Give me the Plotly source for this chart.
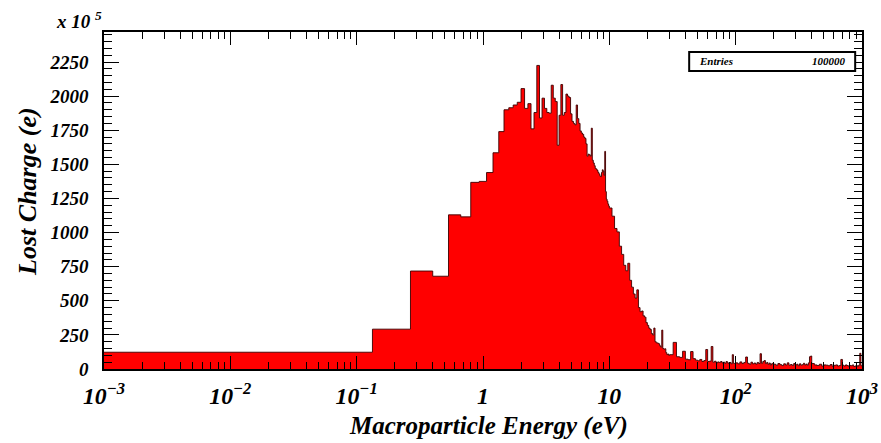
import numpy as np
import plotly.graph_objects as go

# ---------------- data (energy in eV, lost charge in units of 1e5 e) ----------------
# Histogram stored as segments: (low edge of first bin, bin width, bin contents)
seg_a_start, seg_a_width = 0.0, 10.0 / 75
seg_a_counts = [123, 292, 718, 680, 1130, 1115, 1368, 1375, 1440, 1585,
                1740, 1900, 1915, 1935, 1955, 2055, 1910, 1945, 1760, 1880,
                2225, 1840, 1985, 1910, 1880, 1875, 2080, 1985, 1960, 1640,
                1860, 2085, 1860, 1880, 2015, 2000, 1990, 1870, 1815, 1800,
                1790, 1935, 1835, 1800, 1745,
                1730, 1720, 1700, 1690, 1650, 1560, 1575, 1570, 1560, 1765,
                1530, 1510, 1490, 1470, 1465, 1455, 1440, 1430, 1415, 1410,
                1440, 1460, 1450, 1420, 1595, 1300, 1245, 1230, 1210, 1195]

seg_b_start, seg_b_width = 10.0, 0.5
seg_b_counts = [1180, 1120, 1030, 1005, 900, 840, 760, 720, 775, 650,
                600, 550, 520, 580, 450, 420, 425, 390, 380, 340,
                320, 300, 290, 260, 250, 300, 200, 192, 190, 185,
                170, 160, 285, 150, 145, 148, 120, 106, 110, 100]

seg_c_start, seg_c_width = 30.0, 2.0
seg_c_counts = [105, 195, 90, 85, 130, 72, 68, 128, 76, 65,
                60, 70, 55, 62, 143, 55, 58, 165, 50, 57,
                45, 52, 48, 55, 45, 50, 42, 55, 45, 40,
                48, 38, 105, 42, 40]

seg_d_start, seg_d_width = 100.0, 4.0
seg_d_counts = [45, 38, 52, 40, 48, 88, 42, 35, 50, 38,
                44, 36, 48, 40, 112, 42, 55, 62, 40, 48,
                35, 44, 30, 38, 42]

seg_e_start, seg_e_width = 200.0, 8.0
seg_e_counts = [35, 28, 40, 32, 25, 38, 30, 45, 28, 33,
                26, 40, 30, 35, 24, 38, 28, 32, 42, 30,
                36, 28, 45, 90, 95]

seg_f_start, seg_f_width = 400.0, 20.0
seg_f_counts = [40, 30, 26, 35, 22, 30, 28, 24, 33, 20,
                27, 30, 22, 25, 70, 28, 22, 30, 25, 20,
                26, 24, 30, 18, 22, 25, 20, 28, 115, 24]

entries_label = "Entries"
entries_value = "100000"
x_min, x_max = 1e-3, 1e3
y_max = 2470
y_major, y_minor = 250, 50

# ---------------- build step outline ----------------
segments = [(seg_a_start, seg_a_width, seg_a_counts),
            (seg_b_start, seg_b_width, seg_b_counts),
            (seg_c_start, seg_c_width, seg_c_counts),
            (seg_d_start, seg_d_width, seg_d_counts),
            (seg_e_start, seg_e_width, seg_e_counts),
            (seg_f_start, seg_f_width, seg_f_counts)]
edges, vals = [], []
for s, w, c in segments:
    for i, v in enumerate(c):
        edges.append(s + i * w)
        vals.append(v)
last = segments[-1]
edges.append(last[0] + len(last[2]) * last[1])
vals.append(vals[-1])
xs = np.maximum(np.array(edges), x_min)
ys = np.array(vals, dtype=float)

FONT = "Liberation Serif"

fig = go.Figure()
fig.add_trace(go.Scatter(
    x=xs, y=ys, mode="lines", line_shape="hv",
    fill="tozeroy", fillcolor="#ff0000",
    line=dict(color="rgba(60,0,0,0.9)", width=1),
    hoverinfo="skip", showlegend=False))

tickfont = dict(family=FONT, size=19, color="black", weight="bold", style="italic")

fig.update_layout(
    width=881, height=443,
    margin=dict(l=104, r=19, t=32, b=74, autoexpand=False),
    paper_bgcolor="white", plot_bgcolor="white",
    xaxis=dict(type="log", range=[np.log10(x_min), np.log10(x_max)],
               tickmode="linear", tick0=0, dtick=1, exponentformat="power",
               ticks="inside", ticklen=13, tickwidth=1, tickcolor="black",
               minor=dict(ticks="inside", ticklen=7, dtick="D1", tickcolor="black", showgrid=False),
               showline=True, linecolor="black", linewidth=1.5, mirror="ticks",
               showgrid=False, zeroline=False, tickfont=tickfont, ticklabelstandoff=6,
               automargin=False),
    yaxis=dict(range=[0, y_max], tickmode="linear", tick0=0, dtick=y_major,
               ticks="inside", ticklen=15, tickwidth=1, tickcolor="black",
               minor=dict(ticks="inside", ticklen=8, dtick=y_minor, tickcolor="black", showgrid=False),
               showline=True, linecolor="black", linewidth=1.5, mirror="ticks",
               showgrid=False, zeroline=False, tickfont=tickfont, ticklabelstandoff=10,
               automargin=False),
)

ann_font = dict(family=FONT, color="black", weight="bold", style="italic")
fig.add_annotation(text="x 10 <sup>5</sup>", xref="paper", yref="paper", x=0, y=1,
                   xanchor="right", yanchor="bottom", showarrow=False,
                   font=dict(ann_font, size=19), yshift=-2)
fig.add_annotation(text="Lost Charge (e)", xref="paper", yref="paper", x=-0.100, y=0.526,
                   xanchor="center", yanchor="middle", textangle=-90, showarrow=False,
                   font=dict(ann_font, size=26))
fig.add_annotation(text="Macroparticle Energy (eV)", xref="paper", yref="paper", x=0.507, y=-0.170,
                   xanchor="center", yanchor="middle", showarrow=False,
                   font=dict(ann_font, size=25))

# stats box
fig.add_shape(type="rect", xref="paper", yref="paper", x0=0.772, x1=0.991, y0=0.884, y1=0.941,
              line=dict(color="black", width=2), fillcolor="white", layer="above")
fig.add_annotation(text=entries_label, xref="paper", yref="paper", x=0.782, y=0.9125,
                   xanchor="left", yanchor="middle", showarrow=False, font=dict(ann_font, size=11))
fig.add_annotation(text=entries_value, xref="paper", yref="paper", x=0.9815, y=0.9125,
                   xanchor="right", yanchor="middle", showarrow=False, font=dict(ann_font, size=11))

fig.write_html("out.html", config={"displayModeBar": False},
               post_script="document.body.style.margin='0px';document.body.style.overflow='hidden';")
